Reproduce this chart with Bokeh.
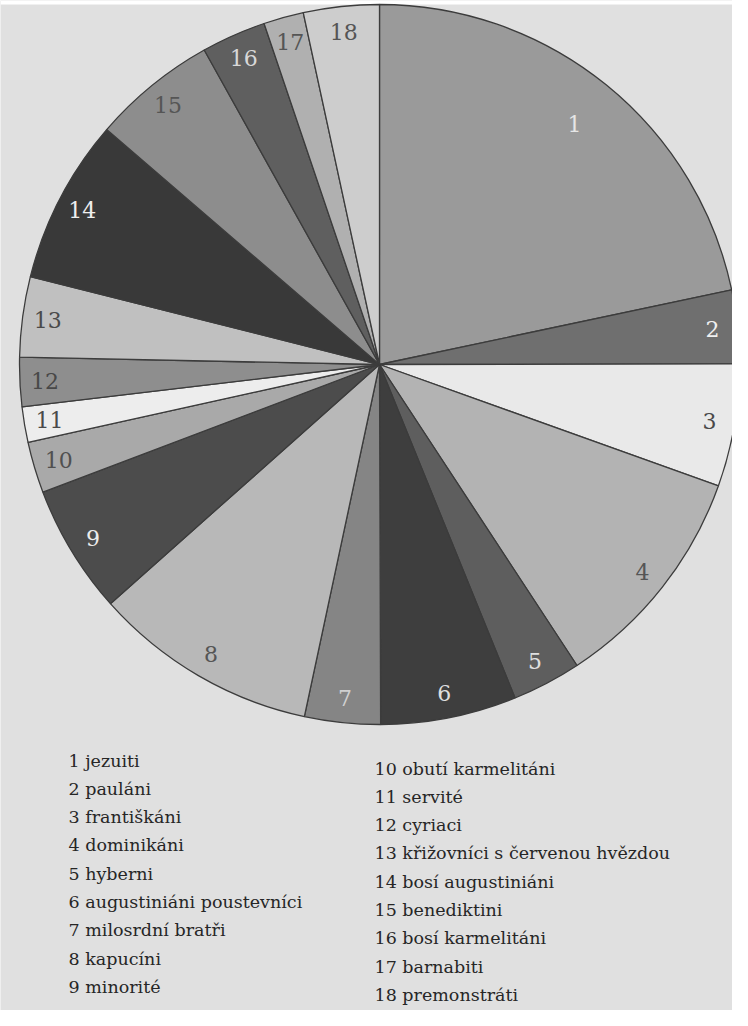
import numpy as np
from bokeh.plotting import figure
from bokeh.models import Range1d, ColumnDataSource
from bokeh.core.properties import value
from bokeh.embed import file_html
from bokeh.resources import INLINE

# ---- data (shares in %) ----
order_numbers = ["1", "2", "3", "4", "5", "6", "7", "8", "9", "10",
                 "11", "12", "13", "14", "15", "16", "17", "18"]
order_names = ["jezuiti", "pauláni", "františkáni", "dominikáni", "hyberni",
               "augustiniáni poustevníci", "milosrdní bratři", "kapucíni",
               "minorité", "obutí karmelitáni", "servité", "cyriaci",
               "křižovníci s červenou hvězdou", "bosí augustiniáni",
               "benediktini", "bosí karmelitáni", "barnabiti", "premonstráti"]
shares = [21.7, 3.3, 5.5, 10.3, 3.1, 6.1, 3.4, 10.1, 5.8,
          2.3, 1.6, 2.2, 3.6, 7.4, 5.6, 2.9, 1.8, 3.4]
slice_colors = ["#9a9a9a", "#6f6f6f", "#e9e9e9", "#b3b3b3", "#5e5e5e",
                "#3e3e3e", "#858585", "#b8b8b8", "#4c4c4c", "#a9a9a9",
                "#ededed", "#8e8e8e", "#c0c0c0", "#393939", "#8d8d8d",
                "#5f5f5f", "#b0b0b0", "#cdcdcd"]
label_colors = ["#e6e6e6", "#f0f0f0", "#4a4a4a", "#555555", "#e0e0e0",
                "#dedede", "#d0d0d0", "#555555", "#ececec", "#505050",
                "#4a4a4a", "#484848", "#4a4a4a", "#efefef", "#555555",
                "#d8d8d8", "#555555", "#555555"]

SERIF = value("DejaVu Serif")

# ---- geometry (page pixel coords, y downward -> data y = -page_y) ----
W, H = 732, 1010
CX, CY = 387, -372
R = 360
BG = "#e0e0e0"

p = figure(width=W, height=H, x_range=Range1d(8, 8 + W), y_range=Range1d(-8 - H, -8),
           output_backend="svg", toolbar_location=None,
           x_axis_type=None, y_axis_type=None, min_border=0)
p.grid.visible = False
p.outline_line_color = None
p.background_fill_color = BG
p.border_fill_color = BG

# white scan strip at the very top
p.quad(left=[8], right=[8 + W], top=[-8], bottom=[-12], color="white", line_color=None)

vals = np.array(shares, dtype=float)
frac = vals / vals.sum()
cum = np.cumsum(frac)
ends = np.pi / 2 - 2 * np.pi * cum          # clockwise from 12 o'clock
starts = ends + 2 * np.pi * frac
mid = (starts + ends) / 2

src = ColumnDataSource(dict(start=ends, end=starts, color=slice_colors))
p.wedge(x=CX, y=CY, radius=R, start_angle="start", end_angle="end",
        direction="anticlock", fill_color="color", line_color="#3c3c3c",
        line_width=1.3, source=src)

lab_r = np.full(len(vals), 0.93 * R)
lab_r[0] = 0.86 * R
lsrc = ColumnDataSource(dict(x=CX + lab_r * np.cos(mid), y=CY + lab_r * np.sin(mid),
                             t=order_numbers, c=label_colors))
p.text(x="x", y="y", text="t", text_color="c", source=lsrc,
       text_font=SERIF, text_font_size="22px",
       text_align="center", text_baseline="middle")

# legend as two columns of text
legend_text = [f"{n} {s}" for n, s in zip(order_numbers, order_names)]
col1 = dict(x=[76] * 9, y=[-(768 + 28.3 * i) for i in range(9)], t=legend_text[:9])
col2 = dict(x=[382] * 9, y=[-(776 + 28.3 * i) for i in range(9)], t=legend_text[9:])
for col in (col1, col2):
    p.text(x="x", y="y", text="t", source=ColumnDataSource(col),
           text_font=SERIF, text_font_size="17.5px",
           text_color="#262626", text_align="left", text_baseline="middle")

open("out.html", "w").write(file_html(p, INLINE))
